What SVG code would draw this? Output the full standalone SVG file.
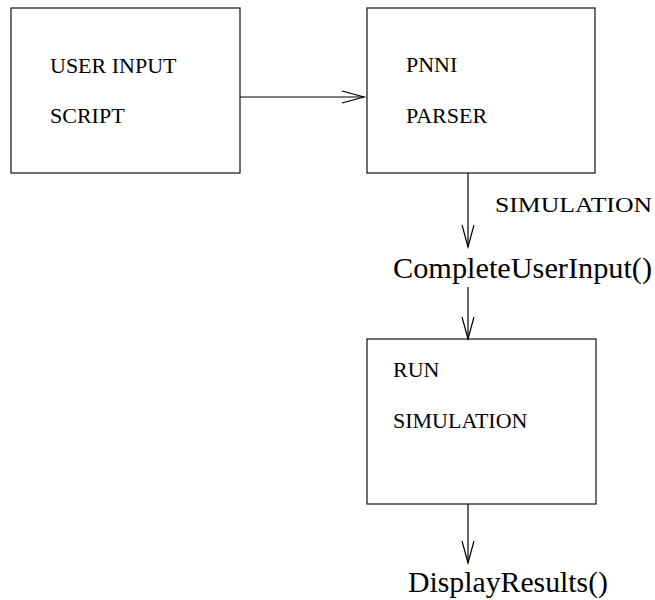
<svg xmlns="http://www.w3.org/2000/svg" width="655" height="600" viewBox="0 0 655 600">
  <defs>
    <marker id="openArrow" markerUnits="userSpaceOnUse" markerWidth="26" markerHeight="14" refX="22" refY="6" orient="auto" overflow="visible">
      <path d="M0,0 L22,6 L0,12" fill="none" stroke="#000" stroke-width="1.2"/>
    </marker>
  </defs>
  <style>
    .box { fill: #fff; stroke: #222; stroke-width: 1.3; }
    .lbl { font-family: "Liberation Serif", "Times New Roman", serif; font-size: 22px; fill: #000; }
    .fn { font-family: "Liberation Serif", "Times New Roman", serif; font-size: 30px; fill: #000; }
    .edge { fill: none; stroke: #000; stroke-width: 1.2; marker-end: url(#openArrow); }
  </style>
  <rect width="655" height="600" fill="#fff"/>

  <g id="user-input">
    <rect class="box" x="11" y="8" width="229" height="165"/>
    <text class="lbl" x="50" y="73">USER INPUT</text>
    <text class="lbl" x="50" y="123">SCRIPT</text>
  </g>

  <g id="pnni-parser">
    <rect class="box" x="367" y="8" width="228" height="165"/>
    <text class="lbl" x="406" y="72">PNNI</text>
    <text class="lbl" x="406" y="123">PARSER</text>
  </g>

  <g id="run-simulation">
    <rect class="box" x="367" y="339" width="229" height="165"/>
    <text class="lbl" x="393" y="377">RUN</text>
    <text class="lbl" x="393" y="428">SIMULATION</text>
  </g>

  <g id="complete-user-input">
    <text class="fn" x="393" y="278" textLength="259" lengthAdjust="spacingAndGlyphs">CompleteUserInput()</text>
  </g>

  <g id="display-results">
    <text class="fn" x="408" y="592" textLength="200" lengthAdjust="spacingAndGlyphs">DisplayResults()</text>
  </g>

  <g id="connectors">
    <line class="edge" x1="240" y1="97" x2="364" y2="97"/>
    <line class="edge" x1="468" y1="173" x2="468" y2="247"/>
    <text class="lbl" x="495" y="212" textLength="157" lengthAdjust="spacingAndGlyphs">SIMULATION</text>
    <line class="edge" x1="468" y1="287" x2="468" y2="339"/>
    <line class="edge" x1="468" y1="504" x2="468" y2="563"/>
  </g>
</svg>
